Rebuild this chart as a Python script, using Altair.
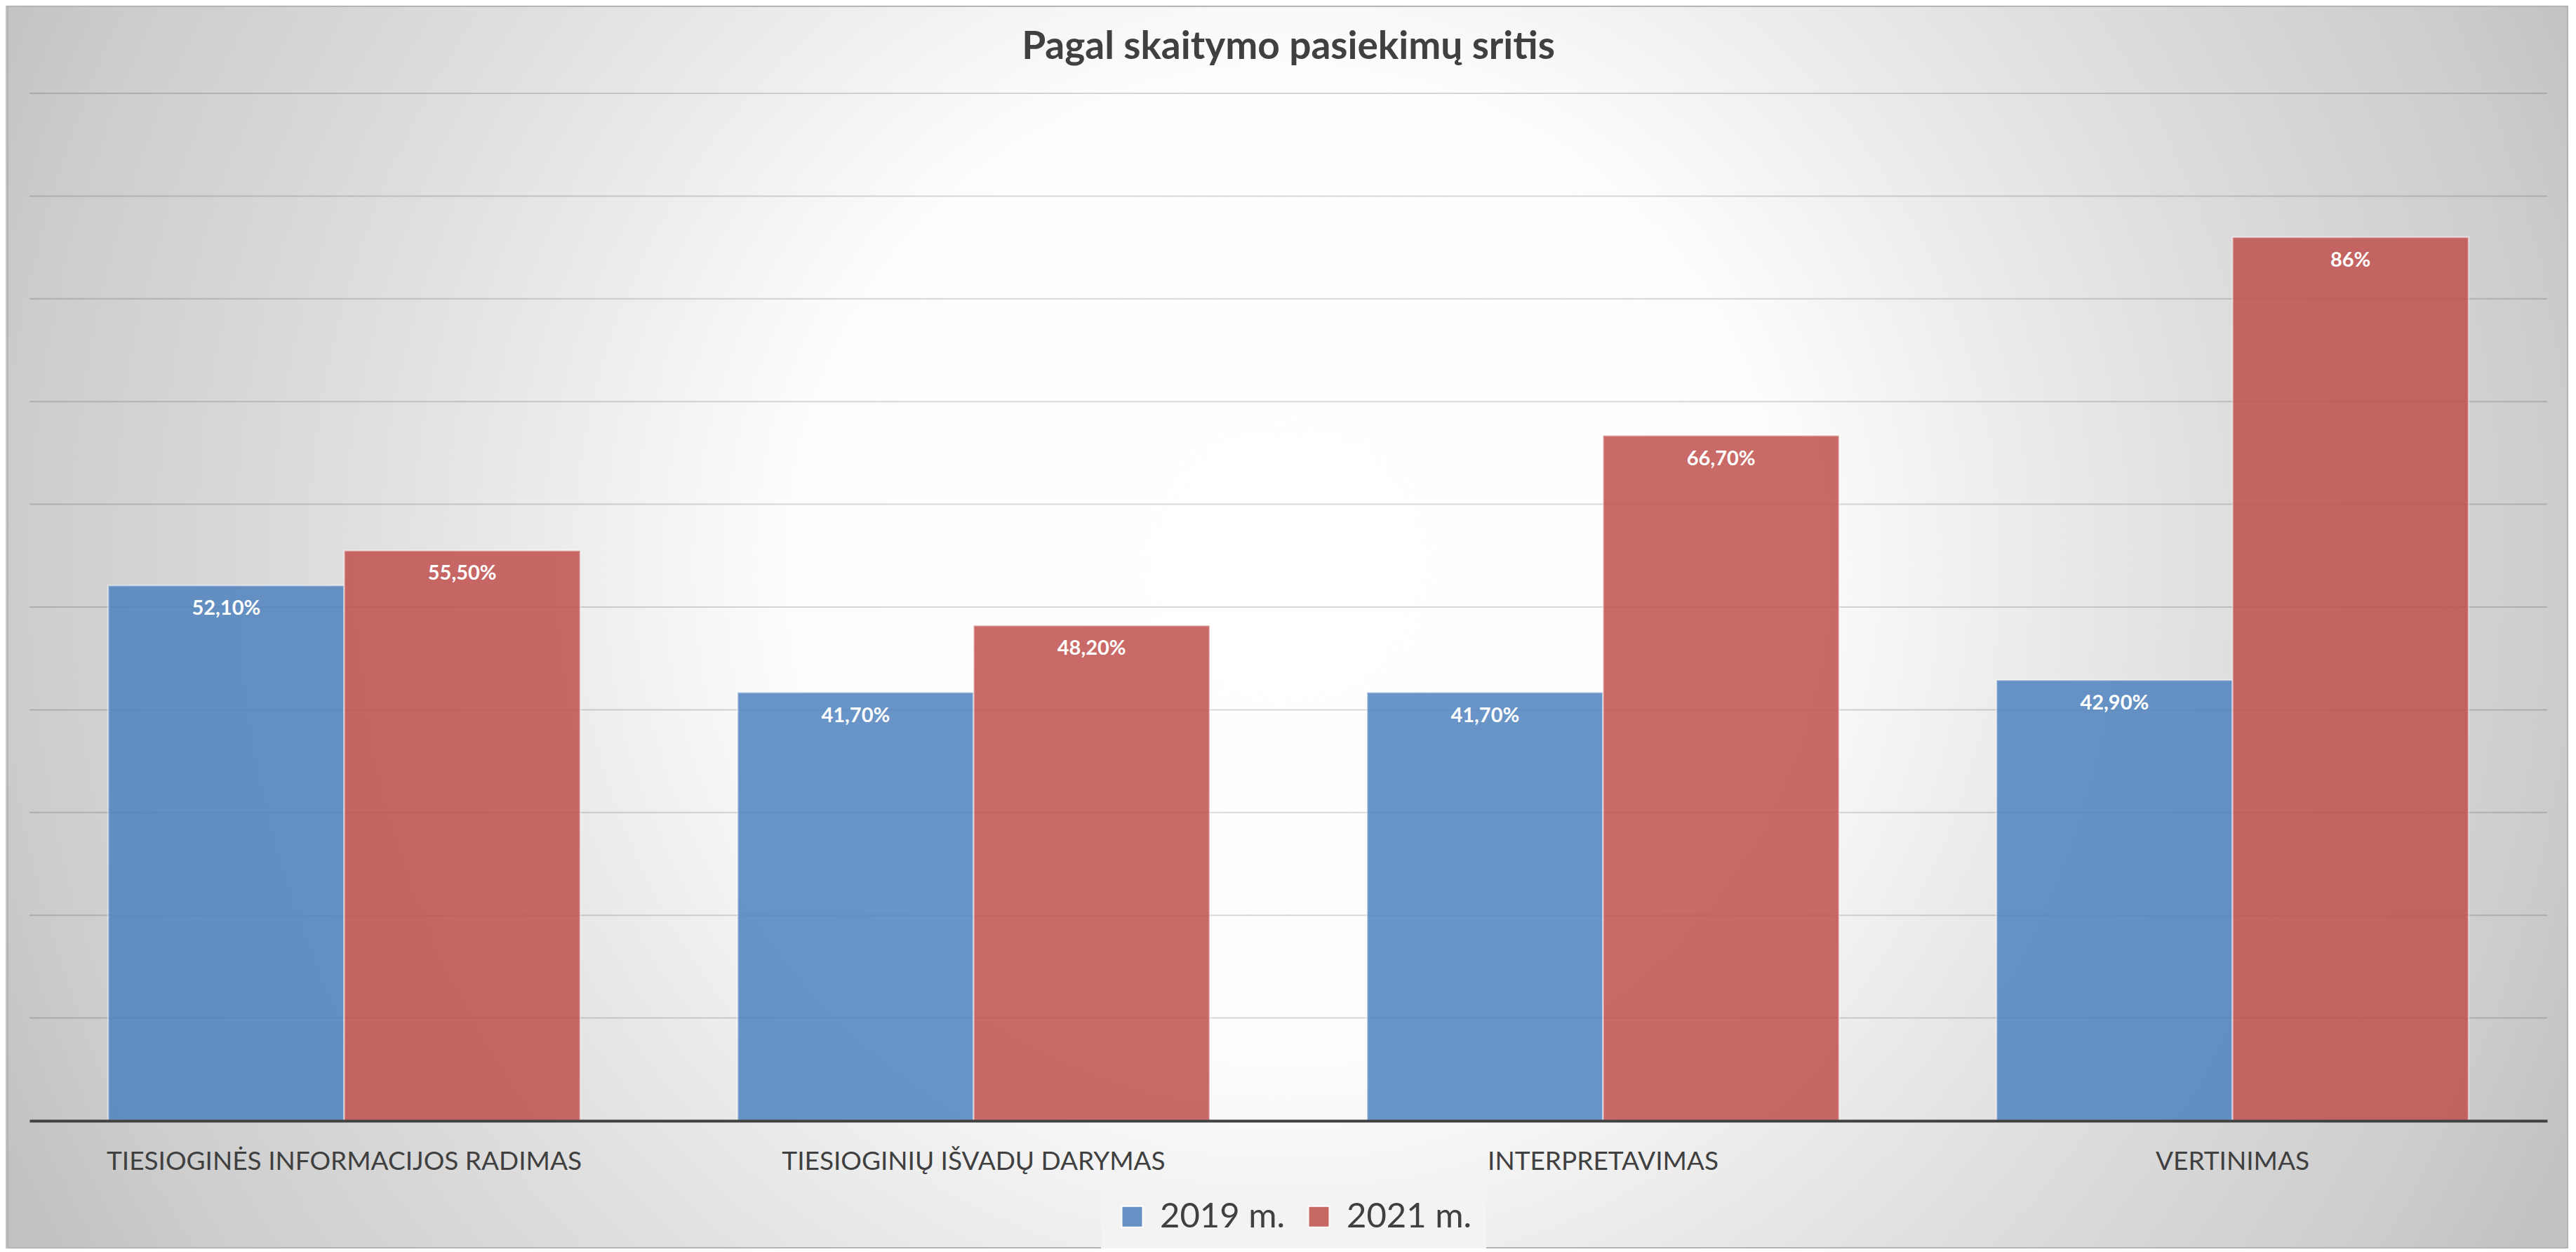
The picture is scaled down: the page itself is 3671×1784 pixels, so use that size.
import altair as alt
import pandas as pd

# ---- data ----
categories = [
    "TIESIOGINĖS INFORMACIJOS RADIMAS",
    "TIESIOGINIŲ IŠVADŲ DARYMAS",
    "INTERPRETAVIMAS",
    "VERTINIMAS",
]
years = ["2019 m.", "2021 m."]
values_2019 = [52.1, 41.7, 41.7, 42.9]
values_2021 = [55.5, 48.2, 66.7, 86.0]
labels_2019 = ["52,10%", "41,70%", "41,70%", "42,90%"]
labels_2021 = ["55,50%", "48,20%", "66,70%", "86%"]
grid_values = [10, 20, 30, 40, 50, 60, 70, 80, 90, 100]
colors = ["#4F81BD", "#C0504D"]
title_text = "Pagal skaitymo pasiekimų sritis"

rows = []
for c, v, l in zip(categories, values_2019, labels_2019):
    rows.append({"category": c, "year": years[0], "value": v, "label": l})
for c, v, l in zip(categories, values_2021, labels_2021):
    rows.append({"category": c, "year": years[1], "value": v, "label": l})
df = pd.DataFrame(rows)
grid_df = pd.DataFrame({"g": grid_values})
title_df = pd.DataFrame({"t": [title_text]})

# ---- layout ----
W, H = 3588, 1464
PL, PT, PR, PB = 34, 125, 30, 182
TOTAL_W = W + PL + PR
TOTAL_H = H + PT + PB
FONT = "Lato"
TXT = "#404040"

yscale = alt.Scale(domain=[0, 100], nice=False, zero=True)

x_enc = alt.X(
    "category:N",
    sort=categories,
    scale=alt.Scale(paddingInner=0.25, paddingOuter=0.125),
    axis=alt.Axis(
        title=None,
        labelAngle=0,
        labelFont=FONT,
        labelFontSize=37,
        labelColor=TXT,
        labelPadding=40,
        labelLimit=0,
        ticks=False,
        grid=False,
        domainColor=TXT,
        domainWidth=4,
        zindex=1,
    ),
)
xoff_enc = alt.XOffset("year:N", sort=years, scale=alt.Scale(paddingInner=0, paddingOuter=0))
y_enc = alt.Y("value:Q", scale=yscale, axis=None)

# background with radial gradient (square box so the gradient is circular)
half = TOTAL_W / 2
yc = -PT + TOTAL_H * 0.45
gradient = {
    "gradient": "radial",
    "x1": 0.5, "y1": 0.5, "r1": 0,
    "x2": 0.5, "y2": 0.5, "r2": 0.55,
    "stops": [
        {"offset": 0.0, "color": "#ffffff"},
        {"offset": 0.35, "color": "#fdfdfd"},
        {"offset": 0.5, "color": "#eeeeee"},
        {"offset": 0.65, "color": "#e0e0e0"},
        {"offset": 0.8, "color": "#d4d4d4"},
        {"offset": 0.9, "color": "#cdcdcd"},
        {"offset": 1.0, "color": "#c2c2c2"},
    ],
}
bg = alt.Chart(pd.DataFrame({"k": [0]})).mark_rect(fill=gradient, strokeWidth=0).encode(
    x=alt.value(-PL), x2=alt.value(W + PR),
    y=alt.value(yc - half), y2=alt.value(yc + half),
)

grid = alt.Chart(grid_df).mark_rule(color="#000000", opacity=0.15, strokeWidth=2).encode(
    y=alt.Y("g:Q", scale=yscale, axis=None),
    x=alt.value(0), x2=alt.value(W),
)

bars = alt.Chart(df).mark_bar(
    fillOpacity=0.85, stroke="#ffffff", strokeOpacity=0.45, strokeWidth=2.5
).encode(
    x=x_enc,
    xOffset=xoff_enc,
    y=y_enc,
    color=alt.Color(
        "year:N",
        sort=years,
        scale=alt.Scale(domain=years, range=colors),
        legend=alt.Legend(
            title=None,
            orient="none",
            legendX=1527,
            legendY=1556,
            direction="horizontal",
            symbolType="square",
            symbolSize=900,
            symbolOpacity=0.85,
            symbolStrokeColor="#ffffff",
            symbolStrokeWidth=2,
            labelFont=FONT,
            labelFontSize=49,
            labelColor=TXT,
            labelOffset=15,
            labelLimit=0,
            columnPadding=23,
            padding=20,
            fillColor="#f3f3f3",
            zindex=1,
        ),
    ),
)

text = alt.Chart(df).mark_text(
    dy=33, baseline="middle", align="center", color="#ffffff",
    font=FONT, fontSize=29, fontWeight="bold",
).encode(
    x=x_enc,
    xOffset=xoff_enc,
    y=y_enc,
    text="label:N",
)

title = alt.Chart(title_df).mark_text(
    baseline="alphabetic", align="center", color=TXT,
    font=FONT, fontSize=55, fontWeight="bold",
).encode(
    text="t:N",
    x=alt.value(W / 2),
    y=alt.value(-49),
)

border = alt.Chart(pd.DataFrame({"k": [0]})).mark_rect(
    fillOpacity=0, stroke="#b4b4b4", strokeWidth=2
).encode(
    x=alt.value(-PL + 3), x2=alt.value(W + PR - 1),
    y=alt.value(-PT + 1), y2=alt.value(H + PB - 1),
)

chart = alt.layer(bg, grid, bars, text, title, border).properties(
    width=W,
    height=H,
    padding={"left": PL, "top": PT, "right": PR, "bottom": PB},
    autosize=alt.AutoSizeParams(type="none"),
).configure_view(stroke=None).configure(background="#ffffff")

chart.save("out.html", embed_options={"renderer": "svg", "actions": False})
